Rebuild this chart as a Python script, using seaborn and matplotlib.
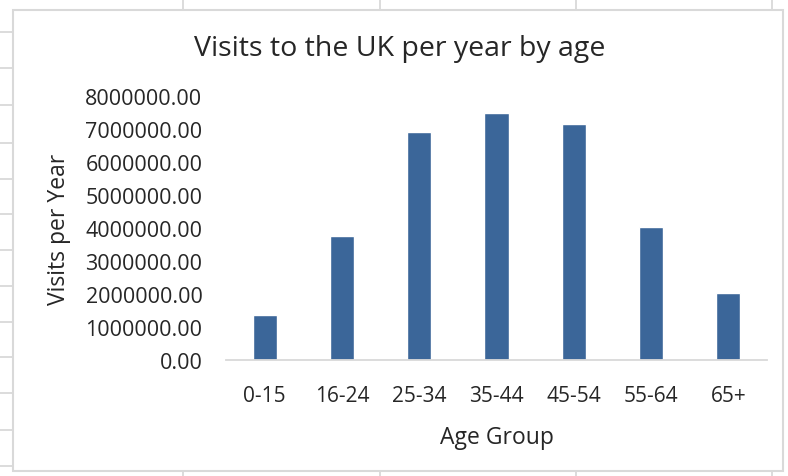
import matplotlib
matplotlib.use("Agg")
import matplotlib.pyplot as plt
from matplotlib.lines import Line2D
from matplotlib.patches import Rectangle
from matplotlib.ticker import FormatStrFormatter
import seaborn as sns
import pandas as pd

# ---- data ----
age_groups = ["0-15", "16-24", "25-34", "35-44", "45-54", "55-64", "65+"]
visits = [1370000, 3750000, 6900000, 7480000, 7140000, 4040000, 2020000]
y_ticks = [0, 1000000, 2000000, 3000000, 4000000, 5000000, 6000000, 7000000, 8000000]

title = "Visits to the UK per year by age"
x_label = "Age Group"
y_label = "Visits per Year"

df = pd.DataFrame({"Age Group": age_groups, "Visits": visits})

sns.set_theme(style="white")
plt.rcParams["font.family"] = ["Open Sans", "DejaVu Sans"]

W, H = 788, 477
fig = plt.figure(figsize=(W / 100, H / 100), dpi=100)
fig.patch.set_facecolor("white")

def fx(px):
    return px / W

def fy(py):
    return 1 - py / H

# spreadsheet gridlines behind the chart
grid_col = "#d6d6d6"
for yy in [33, 69, 106, 144, 180, 215, 251, 287, 323, 358, 394, 431, 467]:
    fig.add_artist(Line2D([0, fx(13)], [fy(yy), fy(yy)], color=grid_col, lw=1.2, zorder=-2))
for xx in [183, 380, 576, 772]:
    fig.add_artist(Line2D([fx(xx), fx(xx)], [fy(0), fy(11)], color=grid_col, lw=1.2, zorder=-2))
    fig.add_artist(Line2D([fx(xx), fx(xx)], [fy(472), fy(477)], color=grid_col, lw=1.2, zorder=-2))
# chart area border
fig.add_artist(Rectangle((fx(13), fy(472)), fx(783) - fx(13), fy(11) - fy(472),
                         facecolor="white", edgecolor="#d9d9d9", lw=1.5, zorder=-1))

left, right, top, bottom = 226, 767, 97, 361
ax = fig.add_axes([fx(left), fy(bottom), fx(right) - fx(left), fy(top) - fy(bottom)])
ax.set_facecolor("none")

sns.barplot(data=df, x="Age Group", y="Visits", color="#3B6699", saturation=1,
            width=0.314, ax=ax)

ax.set_ylim(0, 8000000)
ax.set_xlim(-0.5, len(age_groups) - 0.5)
ax.set_yticks(y_ticks)
ax.yaxis.set_major_formatter(FormatStrFormatter("%.2f"))

text_col = "#262626"
ax.tick_params(axis="y", length=0, pad=17, labelsize=15.5, labelcolor=text_col)
ax.tick_params(axis="x", length=0, pad=18, labelsize=15, labelcolor=text_col)

for s in ["top", "right", "left"]:
    ax.spines[s].set_visible(False)
ax.spines["bottom"].set_color("#d9d9d9")
ax.spines["bottom"].set_linewidth(1.3)

ax.set_xlabel(x_label, fontsize=16.5, color=text_col, labelpad=14)
ax.set_ylabel(y_label, fontsize=16.5, color=text_col, labelpad=10)

fig.text(fx(400), fy(49), title, fontsize=20.5, color=text_col, ha="center", va="center")

fig.savefig("out.png", dpi=100, facecolor="white")
